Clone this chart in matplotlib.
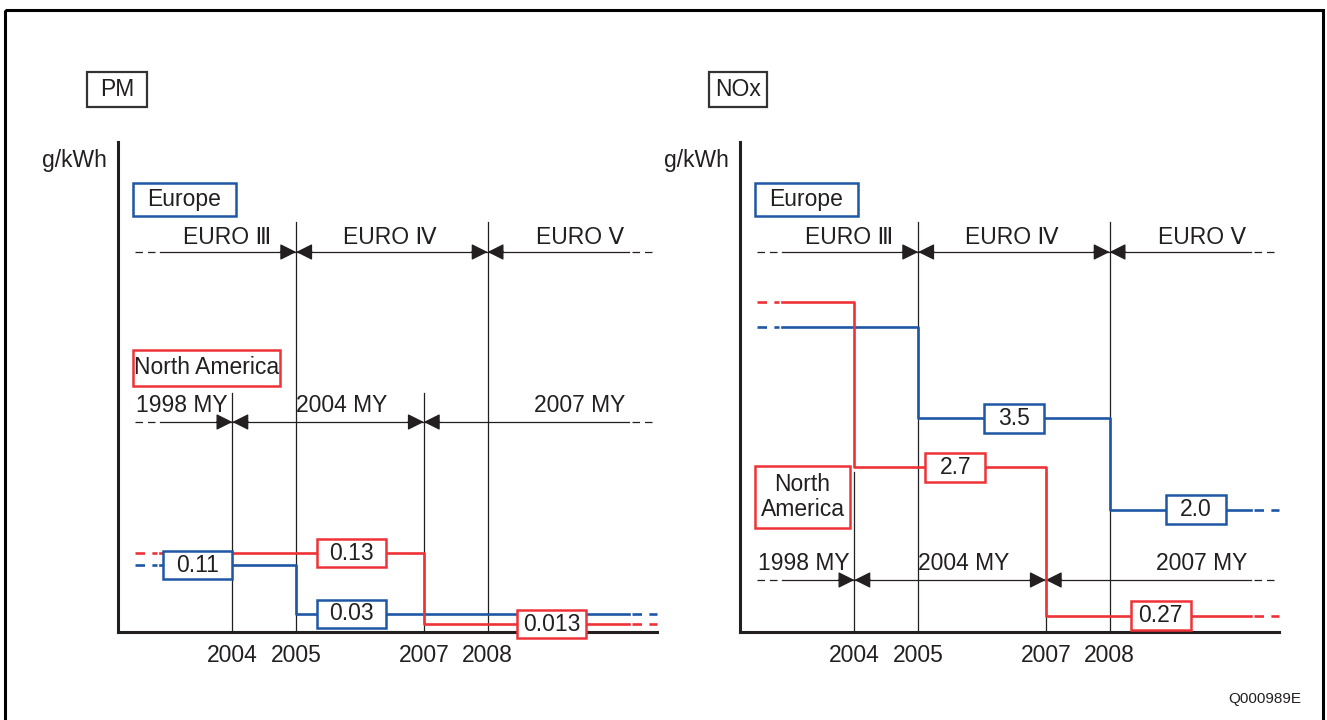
import matplotlib
matplotlib.use('Agg')
import matplotlib.pyplot as plt
from matplotlib.patches import Rectangle
from matplotlib.transforms import ScaledTranslation, blended_transform_factory

# ---- data ----
change_years = [2004, 2005, 2007, 2008]
euro_bounds = [2005, 2008]
euro_stages = ['EURO Ⅲ', 'EURO Ⅳ', 'EURO Ⅴ']
us_bounds = [2004, 2007]
us_stages = ['1998 MY', '2004 MY', '2007 MY']

pm_eu_levels = [0.11, 0.03]
pm_eu_steps = [2005]
pm_us_levels = [0.13, 0.013]
pm_us_steps = [2007]

nox_eu_levels = [5.0, 3.5, 2.0]
nox_eu_steps = [2005, 2008]
nox_us_levels = [5.4, 2.7, 0.27]
nox_us_steps = [2004, 2007]

BLUE = '#1d57a5'
RED = '#ee3237'
INK = '#231f20'
FONT = ['Liberation Sans', 'DejaVu Sans']
NARROW = ['Liberation Sans Narrow', 'Liberation Sans', 'DejaVu Sans']
FS = 16.5

X_DASH0, X_SOLID0 = 2002.47, 2002.87
X_SOLID1, X_DASH1 = 2010.22, 2010.66


def fy(py):
    # pixel row -> axes fraction (axes spans rows 142..632)
    return (632 - py) / 490.0


def box(fig, x, y, trans, text, w, h, color, fs=FS, family=FONT, lw=1.8):
    t = fig.dpi_scale_trans + ScaledTranslation(x, y, trans)
    r = Rectangle((-w / 200, -h / 200), w / 100, h / 100, transform=t,
                  facecolor='white', edgecolor=color, lw=lw, zorder=6, clip_on=False)
    fig.add_artist(r)
    fig.text(0, 0, text, transform=t, ha='center', va='center', fontsize=fs,
             family=family, color=INK, zorder=7, linespacing=1.15)


def step_line(ax, levels, steps, color):
    xs, ys = [X_SOLID0], [levels[0]]
    for s, a, b in zip(steps, levels[:-1], levels[1:]):
        xs += [s, s]
        ys += [a, b]
    xs.append(X_SOLID1)
    ys.append(levels[-1])
    ax.plot(xs, ys, color=color, lw=1.9, zorder=4, clip_on=False)
    for x0, x1, lv in [(X_DASH0, X_SOLID0 - 0.05, levels[0]), (X_SOLID1 + 0.05, X_DASH1, levels[-1])]:
        ax.plot([x0, x1], [lv, lv], color=color, lw=1.9, dashes=(3.6, 2.8), zorder=4, clip_on=False)


def period_row(ax, py_line, py_text, bounds, names, text_x, vtop):
    bl = blended_transform_factory(ax.transData, ax.transAxes)
    y = fy(py_line)
    ax.plot([X_SOLID0, X_SOLID1], [y, y], color=INK, lw=0.9, transform=bl, clip_on=False)
    ax.plot([X_DASH0, X_SOLID0 - 0.05], [y, y], color=INK, lw=0.9, dashes=(6, 4), transform=bl, clip_on=False)
    ax.plot([X_SOLID1 + 0.05, X_DASH1], [y, y], color=INK, lw=0.9, dashes=(6, 4), transform=bl, clip_on=False)
    for b, top in zip(bounds, vtop):
        ax.axvline(b, ymin=0, ymax=fy(top), color=INK, lw=0.9, zorder=2)
        for d in (-0.25, 0.25):
            ax.annotate('', xy=(b, y), xytext=(b + d, y), xycoords=bl, textcoords=bl,
                        arrowprops=dict(arrowstyle='-|>', mutation_scale=25, color=INK,
                                        lw=0.9, shrinkA=0, shrinkB=0))
    for name, x in zip(names, text_x):
        ax.text(x, fy(py_text), name, transform=bl, ha='center', va='center',
                fontsize=FS, family=FONT, color=INK)


def main():
    fig = plt.figure(figsize=(13.27, 7.2), dpi=100)
    bg = fig.add_axes([0, 0, 1, 1])
    bg.set_xlim(0, 1327)
    bg.set_ylim(720, 0)
    bg.axis('off')
    bg.add_patch(Rectangle((5, 10), 1318, 720, fill=False, edgecolor='black', lw=2.2, clip_on=False))
    bg.text(1265, 699, 'Q000989E', ha='center', va='center', fontsize=11, family=FONT, color=INK)

    panels = [
        dict(left=118, title='PM', title_x=117, title_w=60, top=0.807,
             eu=(pm_eu_levels, pm_eu_steps), us=(pm_us_levels, pm_us_steps),
             labels=[(2003.45, 0.11, '0.11', BLUE), (2005.87, 0.03, '0.03', BLUE),
                     (2005.87, 0.13, '0.13', RED), (2009.0, 0.013, '0.013', RED)],
             lab_w=69, lab_h=28,
             my_py=(422, 406), us_vtop=(393, 393),
             na=(206.5, 368, 147, 36, 'North America')),
        dict(left=740, title='NOx', title_x=738, title_w=58, top=8.03,
             eu=(nox_eu_levels, nox_eu_steps), us=(nox_us_levels, nox_us_steps),
             labels=[(2006.5, 3.5, '3.5', BLUE), (2009.35, 2.0, '2.0', BLUE),
                     (2005.58, 2.7, '2.7', RED), (2008.8, 0.27, '0.27', RED)],
             lab_w=60, lab_h=29,
             my_py=(580, 563), us_vtop=(472, 472),
             na=(802.5, 497, 95, 62, 'North\nAmerica')),
    ]

    for p in panels:
        ax = fig.add_axes([p['left'] / 1327, 1 - 632 / 720, 539 / 1327, 490 / 720])
        ax.patch.set_alpha(0)
        ax.set_xlim(X_SOLID0 - 0.663, X_DASH1 - 0.005)
        ax.set_ylim(0, p['top'])
        for s in ('top', 'right'):
            ax.spines[s].set_visible(False)
        for s in ('left', 'bottom'):
            ax.spines[s].set_linewidth(2.2)
            ax.spines[s].set_color(INK)
            ax.spines[s].set_capstyle('projecting')
        ax.set_yticks([])
        ax.set_xticks(change_years)
        ax.set_xticklabels([str(y) for y in change_years], fontsize=FS, family=FONT, color=INK)
        ax.tick_params(axis='x', length=0, pad=9)

        period_row(ax, 252, 237, euro_bounds, euro_stages, [2003.92, 2006.47, 2009.45], (222, 222))
        period_row(ax, p['my_py'][0], p['my_py'][1], us_bounds, us_stages,
                   [2003.2, 2005.71, 2009.45], p['us_vtop'])

        step_line(ax, *p['eu'], BLUE)
        step_line(ax, *p['us'], RED)
        for x, y, s, c in p['labels']:
            box(fig, x, y, ax.transData, s, p['lab_w'], p['lab_h'], c)

        off = p['left'] - 118
        box(fig, p['title_x'], 89.5, bg.transData, p['title'], p['title_w'], 35, '#333333', lw=1.6)
        bg.text(107 + off, 160, 'g/kWh', ha='right', va='center',
                fontsize=FS, family=FONT, color=INK)
        box(fig, 184.5 + off, 199.5, bg.transData, 'Europe', 103, 33, BLUE)
        nx, ny, nw, nh, ns = p['na']
        box(fig, nx, ny, bg.transData, ns, nw, nh, RED, fs=FS, family=NARROW)

    fig.savefig('out.png', dpi=100)


if __name__ == '__main__':
    main()
